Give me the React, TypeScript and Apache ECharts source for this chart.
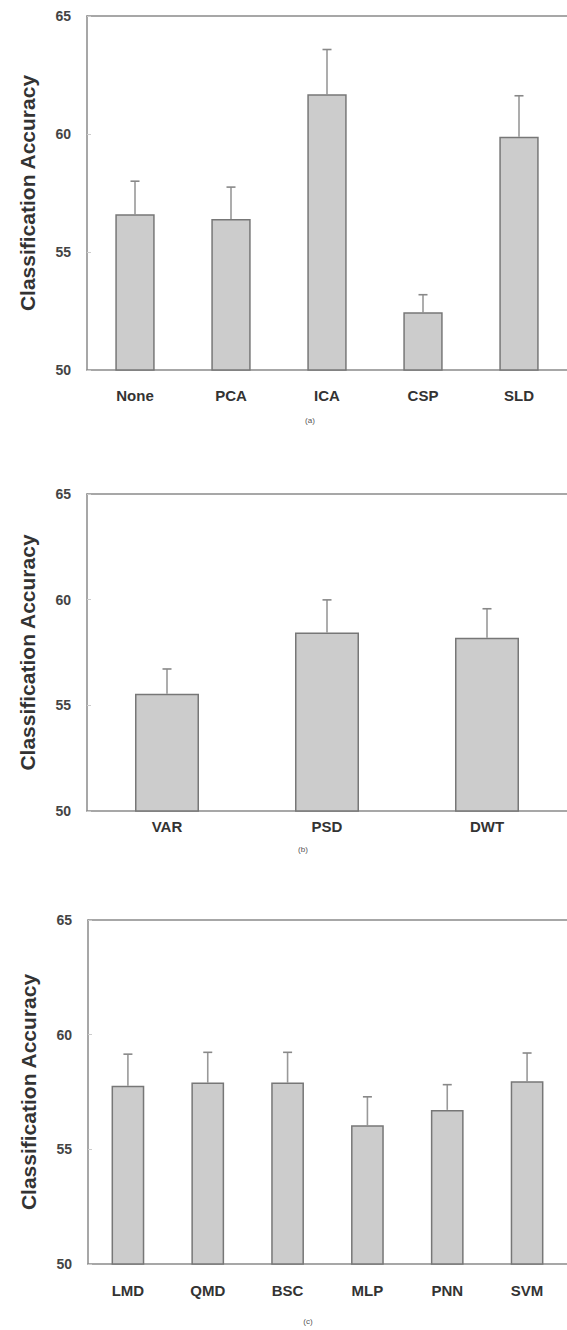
import React, { useEffect, useRef } from "react";
import * as echarts from "echarts";

const yTicks = [50, 55, 60, 65];

const catsA = ["None", "PCA", "ICA", "CSP", "SLD"];
const valsA = [56.6, 56.4, 61.68, 52.45, 59.88];
const errA = [1.4, 1.35, 1.9, 0.74, 1.74];

const catsB = ["VAR", "PSD", "DWT"];
const valsB = [55.55, 58.45, 58.2];
const errB = [1.17, 1.54, 1.37];

const catsC = ["LMD", "QMD", "BSC", "MLP", "PNN", "SVM"];
const valsC = [57.77, 57.91, 57.91, 56.05, 56.72, 57.97];
const errC = [1.38, 1.32, 1.32, 1.24, 1.1, 1.23];

const panelLabels = ["(a)", "(b)", "(c)"];

const FONT = "Liberation Sans";

export default function App() {
  const ref = useRef<HTMLDivElement>(null);
  useEffect(() => {
    if (!ref.current) return;
    const chart = echarts.init(ref.current, undefined, { renderer: "svg" });

    const panels = [
      { cats: catsA, vals: valsA, errs: errA, left: 87, width: 484, top: 16, height: 354, labelMargin: 18, barW: "41%" },
      { cats: catsB, vals: valsB, errs: errB, left: 87, width: 483, top: 494, height: 317, labelMargin: 8, barW: "40%" },
      { cats: catsC, vals: valsC, errs: errC, left: 88, width: 494, top: 920, height: 344, labelMargin: 19, barW: "41%" },
    ];

    const grids: any[] = [];
    const xAxes: any[] = [];
    const yAxes: any[] = [];
    const series: any[] = [];
    const axisColor = "#8a8a8a";

    panels.forEach((p, i) => {
      grids.push({
        left: p.left,
        top: p.top,
        width: p.width,
        height: p.height,
        show: false,
      });
      xAxes.push({
        type: "category",
        gridIndex: i,
        data: p.cats,
        position: "bottom",
        axisLine: { lineStyle: { color: axisColor, width: 1.5 } },
        axisTick: { show: false },
        axisLabel: {
          margin: p.labelMargin,
          color: "#333",
          fontFamily: FONT,
          fontWeight: "bold",
          fontSize: 15,
        },
      });
      // top frame line
      xAxes.push({
        type: "category",
        gridIndex: i,
        data: p.cats,
        position: "top",
        axisLine: { show: true, onZero: false, lineStyle: { color: axisColor, width: 1.5 } },
        axisTick: { show: false },
        axisLabel: { show: false },
        splitLine: { show: false },
      });
      yAxes.push({
        type: "value",
        gridIndex: i,
        min: 50,
        max: 65,
        interval: 5,
        name: "Classification Accuracy",
        nameLocation: "middle",
        nameRotate: 90,
        nameGap: 49,
        nameTextStyle: {
          fontFamily: FONT,
          fontWeight: "bold",
          fontSize: 21,
          color: "#333",
        },
        axisLine: { show: true, lineStyle: { color: axisColor, width: 1.5 } },
        axisTick: { show: true, inside: true, length: 4, lineStyle: { color: "#ccc" } },
        splitLine: { show: false },
        axisLabel: {
          margin: 16,
          color: "#444",
          fontFamily: FONT,
          fontWeight: "bold",
          fontSize: 14,
          formatter: (v: number) => (yTicks.includes(v) ? String(v) : ""),
        },
      });
      series.push({
        type: "bar",
        xAxisIndex: i * 2,
        yAxisIndex: i,
        data: p.vals,
        barWidth: p.barW,
        itemStyle: { color: "#cccccc", borderColor: "#777", borderWidth: 1.5 },
        z: 2,
      });
      series.push({
        type: "custom",
        xAxisIndex: i * 2,
        yAxisIndex: i,
        data: p.vals.map((v, j) => [j, v, v + p.errs[j]]),
        z: 1,
        renderItem: (params: any, api: any) => {
          const x = api.value(0);
          const lo = api.coord([x, api.value(1)]);
          const hi = api.coord([x, api.value(2)]);
          const cap = 4.5;
          return {
            type: "group",
            children: [
              {
                type: "line",
                shape: { x1: lo[0], y1: lo[1], x2: hi[0], y2: hi[1] },
                style: { stroke: "#999", lineWidth: 1.6 },
              },
              {
                type: "line",
                shape: { x1: hi[0] - cap, y1: hi[1], x2: hi[0] + cap, y2: hi[1] },
                style: { stroke: "#888", lineWidth: 1.6 },
              },
            ],
          };
        },
      });
    });

    const subY = [420, 849, 1321];
    const subX = [310, 303, 308];

    chart.setOption({
      animation: false,
      backgroundColor: "#ffffff",
      grid: grids,
      xAxis: xAxes,
      yAxis: yAxes,
      series,
      graphic: panelLabels.map((t, i) => ({
        type: "text",
        x: subX[i],
        y: subY[i],
        style: {
          text: t,
          fontFamily: FONT,
          fontSize: 8,
          fill: "#555",
          align: "center",
          verticalAlign: "middle",
        },
      })),
    });

    return () => chart.dispose();
  }, []);

  return (
    <div
      ref={ref}
      style={{ position: "absolute", left: 0, top: 0, width: 567, height: 1330 }}
    />
  );
}
